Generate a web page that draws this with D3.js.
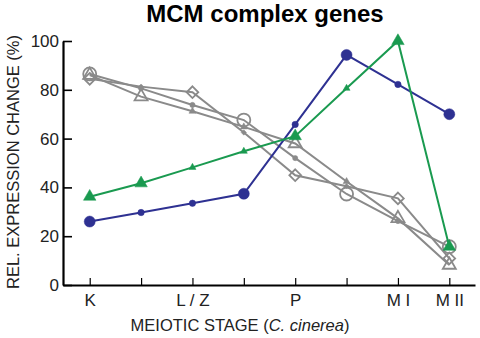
<!DOCTYPE html>
<html>
<head>
<meta charset="utf-8">
<script src="https://cdn.jsdelivr.net/npm/d3@7"></script>
<style>
  body { margin: 0; background: #fff; }
  text { font-family: "Liberation Sans", Arial, sans-serif; }
</style>
</head>
<body>
<svg id="chart" width="480" height="338"></svg>
<script>
// stages along the x axis (index), only some are labelled
const stageLabels = ["K", "", "L / Z", "", "P", "", "M I", "M II"];
const yTicks = [0, 20, 40, 60, 80, 100];

// blue series, big marker = 1, small marker = 0
const blueValues = [26, 29.7, 33.5, 37.4, 65.8, 94.3, 82.2, 70];
const blueBig = [1, 0, 0, 1, 0, 1, 0, 1];

const greenValues = [36.2, 41.7, 48.2, 54.8, 61, 80.6, 100, 15.7];
const greenBig = [1, 1, 0, 0, 1, 0, 1, 1];

// grey genes
const greyCircleValues = [86.5, 80.6, 73.8, 67.6, 52, 37.3, 26.2, 15.7];
const greyCircleBig = [1, 0, 0, 1, 0, 1, 0, 1];

const greyTriangleValues = [86, 77.2, 71.2, 64.8, 58, 42.4, 27.3, 8.2];
const greyTriangleBig = [1, 1, 0, 0, 1, 0, 1, 1];

const greyDiamondValues = [84.5, 81.3, 79, 62.5, 45, 40.5, 35.5, 10.9];
const greyDiamondBig = [1, 0, 1, 0, 1, 0, 1, 1];

const BLUE = "#2e3192";
const GREEN = "#1a9a50";
const GREY = "#8a8a8a";

const svg = d3.select("#chart");

const x = d3.scaleLinear().domain([-0.52, 7.5]).range([63, 475]);
const y = d3.scaleLinear().domain([0, 100]).range([285, 41]);

// title
svg.append("text")
  .attr("x", 265)
  .attr("y", 22)
  .attr("text-anchor", "middle")
  .style("font-size", "24px")
  .style("font-weight", "bold")
  .text("MCM complex genes");

// axes
const yAxis = svg.append("g")
  .attr("transform", `translate(${x.range()[0]},0)`)
  .call(d3.axisRight(y).tickValues(yTicks).tickSize(9).tickSizeOuter(0).tickFormat((d) => d));
yAxis.select(".domain").attr("stroke-width", 2.2);
yAxis.selectAll(".tick line").attr("stroke-width", 1.6);
yAxis.selectAll(".tick text")
  .attr("x", -4)
  .attr("text-anchor", "end")
  .style("font-size", "17px")
  .attr("fill", "#222");

const xAxis = svg.append("g")
  .attr("transform", `translate(0,${y(0)})`)
  .call(d3.axisTop(x).tickValues(d3.range(stageLabels.length)).tickSize(7).tickSizeOuter(0)
    .tickFormat((d) => stageLabels[d]));
xAxis.select(".domain").attr("stroke-width", 2.2);
xAxis.selectAll(".tick line").attr("stroke-width", 1.2);
xAxis.selectAll(".tick text")
  .attr("y", 21)
  .attr("dy", 0)
  .style("font-size", "17px")
  .attr("fill", "#222");

// axis titles
const xt = svg.append("text")
  .attr("x", 240)
  .attr("y", 331)
  .attr("text-anchor", "middle")
  .style("font-size", "16.5px")
  .attr("fill", "#222");
xt.append("tspan").text("MEIOTIC STAGE (");
xt.append("tspan").style("font-style", "italic").text("C. cinerea");
xt.append("tspan").text(")");

svg.append("text")
  .attr("transform", "translate(19,162) rotate(-90)")
  .attr("text-anchor", "middle")
  .style("font-size", "16.5px")
  .attr("fill", "#222")
  .text("REL. EXPRESSION CHANGE (%)");

const line = d3.line()
  .x((d, i) => x(i))
  .y((d) => y(d));

function drawSeries(values, big, color, shape, open) {
  const g = svg.append("g");
  g.append("path")
    .datum(values)
    .attr("d", line)
    .attr("fill", "none")
    .attr("stroke", color)
    .attr("stroke-width", 2);

  const pts = values.map((v, i) => ({ i: i, v: v, big: big[i] }));
  g.selectAll("path.mark")
    .data(pts)
    .enter()
    .append("path")
    .attr("class", "mark")
    .attr("transform", (d) => `translate(${x(d.i)},${y(d.v)})`)
    .attr("d", (d) => {
      if (shape === "circle") {
        const r = d.big ? (open ? 6.5 : 5.5) : (open ? 2.6 : 3.2);
        return d3.symbol(d3.symbolCircle, Math.PI * r * r)();
      }
      if (shape === "triangle") {
        const s = d.big ? (open ? 13 : 12.5) : 7;
        return d3.symbol(d3.symbolTriangle, Math.sqrt(3) / 4 * s * s)();
      }
      const h = d.big ? 6.6 : 3;
      return d3.symbol(d3.symbolDiamond2, 2 * h * h)();
    })
    .attr("fill", (d) => (open && d.big ? "none" : color))
    .attr("stroke", color)
    .attr("stroke-width", (d) => (open && d.big ? 1.8 : 0.5));
}

drawSeries(greyDiamondValues, greyDiamondBig, GREY, "diamond", true);
drawSeries(greyTriangleValues, greyTriangleBig, GREY, "triangle", true);
drawSeries(greyCircleValues, greyCircleBig, GREY, "circle", true);
drawSeries(blueValues, blueBig, BLUE, "circle", false);
drawSeries(greenValues, greenBig, GREEN, "triangle", false);
</script>
</body>
</html>
